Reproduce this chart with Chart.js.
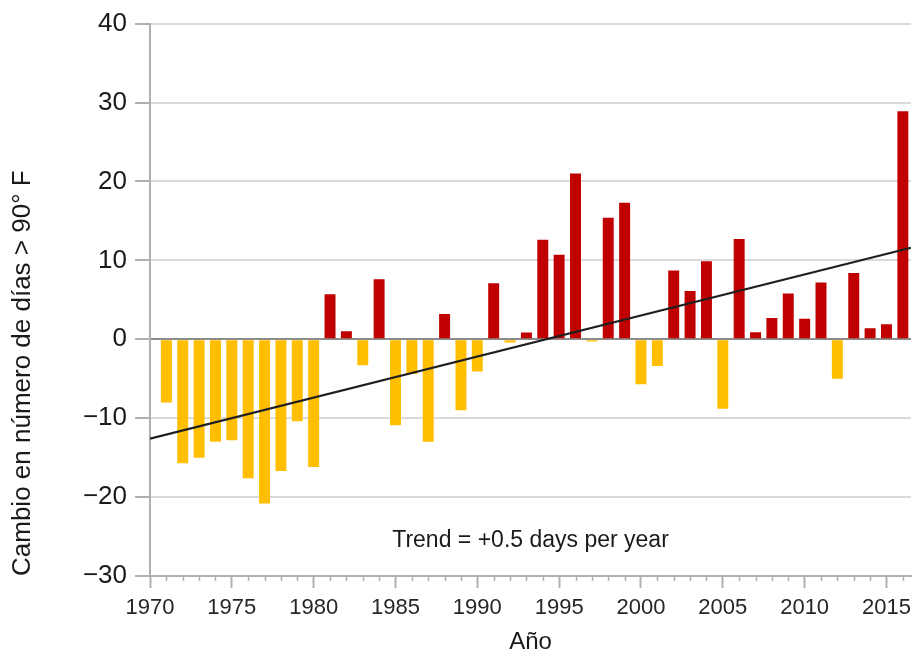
<!DOCTYPE html>
<html>
<head>
<meta charset="utf-8">
<script src="https://cdn.jsdelivr.net/npm/chart.js@4/dist/chart.umd.min.js"></script>
<style>
  html, body { margin: 0; padding: 0; background: #fff; }
  #chart { display: block; }
</style>
</head>
<body>
<canvas id="chart" width="918" height="653"></canvas>
<script>
const years = [
  1971, 1972, 1973, 1974, 1975, 1976, 1977, 1978, 1979, 1980,
  1981, 1982, 1983, 1984, 1985, 1986, 1987, 1988, 1989, 1990,
  1991, 1992, 1993, 1994, 1995, 1996, 1997, 1998, 1999, 2000,
  2001, 2002, 2003, 2004, 2005, 2006, 2007, 2008, 2009, 2010,
  2011, 2012, 2013, 2014, 2015, 2016
];
const changeDays = [
  -8.0, -15.7, -15.0, -13.0, -12.8, -17.6, -20.8, -16.7, -10.4, -16.2,
  5.7, 1.0, -3.3, 7.6, -10.9, -4.4, -13.0, 3.2, -9.0, -4.1,
  7.1, -0.4, 0.85, 12.6, 10.7, 21.0, -0.3, 15.4, 17.3, -5.7,
  -3.4, 8.7, 6.1, 9.9, -8.8, 12.7, 0.9, 2.7, 5.8, 2.6,
  7.2, -5.0, 8.4, 1.4, 1.9, 28.9
];
// trend line end points (+0.5 days per year)
const trendYears = [1970, 2016.5];
const trendValues = [-12.6, 11.6];
const yTicks = [40, 30, 20, 10, 0, -10, -20, -30];
const xTicks = [1970, 1975, 1980, 1985, 1990, 1995, 2000, 2005, 2010, 2015];
const trendLabel = 'Trend = +0.5 days per year';

const FONT = '"Liberation Sans", Arial, sans-serif';
const RED = '#c00000';
const YELLOW = '#ffbf00';

const extras = {
  id: 'extras',
  afterDraw(chart) {
    const { ctx, chartArea } = chart;
    const x = chart.scales.x, y = chart.scales.y;
    ctx.save();
    // minor year ticks on the x axis
    ctx.strokeStyle = '#b0b0b0';
    ctx.lineWidth = 1.5;
    for (let yr = 1971; yr <= 2016; yr++) {
      if (yr % 5 === 0) continue;
      const px = Math.round(x.getPixelForValue(yr)) + 0.5;
      ctx.beginPath();
      ctx.moveTo(px, chartArea.bottom);
      ctx.lineTo(px, chartArea.bottom + 5);
      ctx.stroke();
    }
    // trend note
    ctx.fillStyle = '#1a1a1a';
    ctx.font = '23px ' + FONT;
    ctx.textAlign = 'center';
    ctx.textBaseline = 'middle';
    ctx.fillText(trendLabel, x.getPixelForValue(1993.25), y.getPixelForValue(-25.5));
    ctx.restore();
  }
};

new Chart(document.getElementById('chart'), {
  type: 'bar',
  data: {
    datasets: [
      {
        type: 'line',
        data: trendYears.map((yr, i) => ({ x: yr, y: trendValues[i] })),
        borderColor: '#1f1f1f',
        borderWidth: 2.2,
        pointRadius: 0,
        fill: false
      },
      {
        type: 'bar',
        data: years.map((yr, i) => ({ x: yr, y: changeDays[i] })),
        backgroundColor: (c) => (c.raw && c.raw.y >= 0 ? RED : YELLOW),
        borderWidth: 0,
        barPercentage: 0.67,
        categoryPercentage: 1.0
      }
    ]
  },
  options: {
    responsive: false,
    animation: false,
    layout: { padding: { top: 22, right: 2, left: 0, bottom: 0 } },
    plugins: {
      legend: { display: false },
      tooltip: { enabled: false }
    },
    scales: {
      x: {
        type: 'linear',
        offset: false,
        min: 1970,
        max: 2016.5,
        afterFit: (s) => { s.height = 77; },
        afterBuildTicks: (s) => { s.ticks = xTicks.map(v => ({ value: v })); },
        border: { display: true, color: '#b0b0b0', width: 2 },
        grid: { offset: false, drawOnChartArea: false, drawTicks: true, tickLength: 12, tickColor: '#b0b0b0', tickWidth: 2 },
        ticks: {
          autoSkip: false,
          maxRotation: 0,
          padding: 7,
          color: '#262626',
          font: { family: FONT, size: 22 },
          callback: (v) => String(v)
        },
        title: {
          display: true,
          text: 'Año',
          color: '#1a1a1a',
          font: { family: FONT, size: 24 },
          padding: { top: 0, bottom: -4 }
        }
      },
      y: {
        min: -30,
        max: 40,
        afterFit: (s) => { s.width = 150; },
        afterBuildTicks: (s) => { s.ticks = yTicks.map(v => ({ value: v })); },
        border: { display: true, color: '#b0b0b0', width: 2 },
        grid: {
          color: (c) => (c.tick && c.tick.value === 0 ? '#8c8c8c' : '#dadada'),
          lineWidth: 2,
          tickLength: 15,
          tickColor: '#b0b0b0'
        },
        ticks: {
          padding: 8,
          color: '#1a1a1a',
          font: { family: FONT, size: 26 },
          callback: (v) => (v < 0 ? '\u2212' + Math.abs(v) : String(v))
        },
        title: {
          display: true,
          text: 'Cambio en número de días > 90° F',
          align: 'start',
          color: '#1a1a1a',
          font: { family: FONT, size: 26 },
          padding: { top: 7, bottom: 0 }
        }
      }
    }
  },
  plugins: [extras]
});
</script>
</body>
</html>
